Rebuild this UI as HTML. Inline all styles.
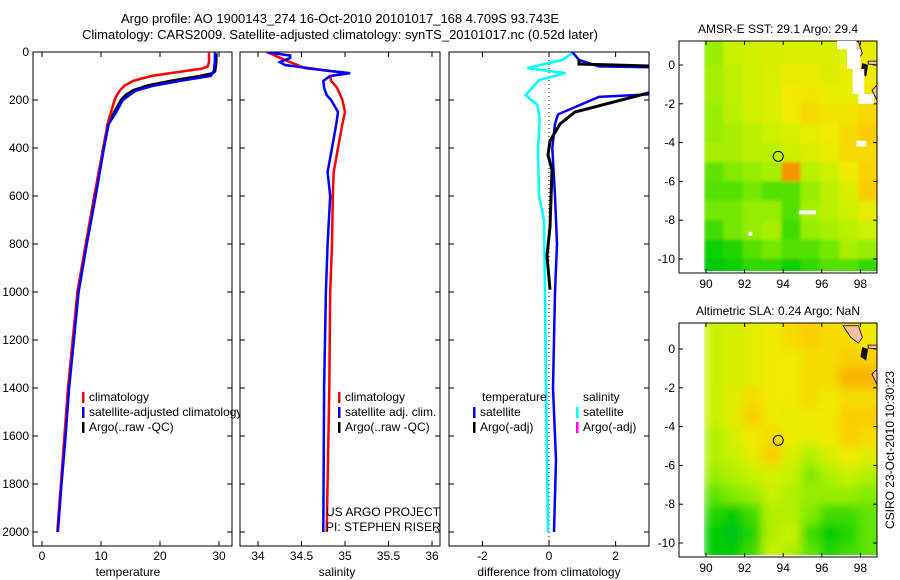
<!DOCTYPE html>
<html><head><meta charset="utf-8">
<style>
body{margin:0;background:#fff;}
svg{display:block;font-family:"Liberation Sans",sans-serif;}
text{font-size:12px;fill:#000;}
</style></head>
<body>
<svg id="fig" width="900" height="580" viewBox="0 0 900 580" xmlns="http://www.w3.org/2000/svg">
<rect width="900" height="580" fill="#fff"/>
<defs>
<clipPath id="c1"><rect x="33" y="52" width="199" height="494"/></clipPath>
<clipPath id="c2"><rect x="240" y="52" width="200" height="494"/></clipPath>
<clipPath id="c3"><rect x="449" y="52" width="200" height="494"/></clipPath>
<clipPath id="m1"><rect x="704" y="41" width="173" height="230"/></clipPath>
<clipPath id="m2"><rect x="704" y="323" width="173" height="232"/></clipPath>
<filter id="bl1" x="-10%" y="-10%" width="120%" height="120%"><feGaussianBlur stdDeviation="1.5"/></filter>
<filter id="bl2" x="-10%" y="-10%" width="120%" height="120%"><feGaussianBlur stdDeviation="5"/></filter>
</defs>
<g>
<text x="340" y="23" text-anchor="middle" style="font-size:13px">Argo profile: AO 1900143_274 16-Oct-2010 20101017_168 4.709S 93.743E</text>
<text x="340" y="39" text-anchor="middle" style="font-size:13px">Climatology: CARS2009. Satellite-adjusted climatology: synTS_20101017.nc (0.52d later)</text>
</g>
<g id="p1"></g>
<g id="p2"></g>
<g id="p3"></g>
<g id="map1"></g>
<g id="map2"></g>
<text transform="translate(894,450) rotate(-90)" text-anchor="middle">CSIRO 23-Oct-2010 10:30:23</text>
</svg>
<script>
// ---- profile data ----
const climDepth=[0,20,40,60,70,80,100,120,140,160,180,200,250,300,400,500,600,800,1000,1200,1400,1600,1800,2000];
const climTemp=[28.3,28.3,28.3,28.1,27,24,18.5,15.5,14,13.2,12.7,12.3,11.7,11.1,10.4,9.6,8.9,7.4,6.0,5.2,4.4,3.8,3.2,2.6];
const satDepth=[0,20,40,60,80,100,110,120,140,160,180,200,250,300,400,500,600,800,1000,1200,1400,1600,1800,2000];
const satTemp=[29.3,29.3,29.3,29.2,29.1,28.6,26,23.5,19,16,14.8,13.7,12.6,11.3,10.5,9.8,9.1,7.6,6.2,5.4,4.6,4.0,3.3,2.7];
const argoDepth=[5,20,40,60,80,90,100,120,140,160,180,200,250,300,400,500,600,800,1000];
const argoTemp=[29.5,29.5,29.5,29.4,29.3,28.8,27,22,18,15.5,14.2,13.4,12.3,11.2,10.4,9.7,8.9,7.5,6.1];
const salClimDepth=[0,30,67,83,90,100,120,150,200,250,300,400,500,600,800,1000,1400,2000];
const salClim=[34.1,34.29,34.54,34.91,35.0,34.83,34.84,34.91,34.97,35.0,34.97,34.92,34.87,34.86,34.85,34.83,34.82,34.79];
const salSatDepth=[0,15,25,42,54,79,88,100,120,150,180,200,250,300,400,500,600,800,1000,1400,2000];
const salSat=[34.1,34.37,34.37,34.25,34.31,34.83,35.06,34.83,34.75,34.76,34.79,34.84,34.92,34.9,34.85,34.8,34.83,34.8,34.78,34.76,34.75];
const diffSalDepth=[5,33,67,88,117,180,220,283,400,600,700,1000,1400,2000];
const diffSal=[0.7,0.4,-0.65,0.5,-0.3,-0.7,-0.35,-0.28,-0.33,-0.3,-0.15,-0.12,-0.09,-0.03];
const diffTempDepth=[0,33,60,75,100,155,187,260,300,400,600,800,1000,1400,1700,2000];
const diffTemp=[0.7,0.9,1.5,8,10,6,1.5,0.27,0.18,0.1,0.18,0.24,0.18,0.12,0.21,0.15];
const diffArgoDepth=[30,50,70,170,250,300,370,430,490,730,850,990];
const diffArgo=[0.9,0.9,6,3,0.78,0.33,0.03,-0.03,0.09,0.03,-0.06,0.03];
const depthTicks=[0,200,400,600,800,1000,1200,1400,1600,1800,2000];
const tempTicks=[0,10,20,30];
const salTicks=[34,34.5,35,35.5,36];
const diffTicks=[-2,0,2];
// ---- map data (1-degree cells, colour index 0..1) ----
const mapLon=[89.9,90.9,91.9,92.9,93.9,94.9,95.9,96.9,97.9];
const mapLat=[1.24,0,-1,-2,-3,-4,-5,-6,-7,-8,-9,-10];
const sstVals=[
[0.45,0.55,0.58,0.6,0.62,0.62,0.62,0.62,0.67],
[0.48,0.53,0.58,0.62,0.67,0.67,0.63,0.67,0.7],
[0.48,0.53,0.58,0.62,0.7,0.72,0.67,0.67,0.72],
[0.45,0.52,0.58,0.62,0.7,0.76,0.72,0.72,0.76],
[0.45,0.48,0.52,0.57,0.62,0.67,0.7,0.76,0.8],
[0.48,0.48,0.52,0.52,0.57,0.62,0.67,0.76,0.76],
[0.35,0.4,0.44,0.48,0.9,0.52,0.57,0.7,0.78],
[0.33,0.33,0.38,0.33,0.33,0.44,0.52,0.62,0.8],
[0.38,0.38,0.44,0.44,0.33,0.48,0.52,0.57,0.67],
[0.3,0.38,0.44,0.48,0.3,0.44,0.48,0.52,0.57],
[0.22,0.25,0.33,0.38,0.33,0.33,0.38,0.48,0.44],
[0.18,0.22,0.27,0.27,0.22,0.27,0.33,0.33,0.27]];
const slaVals=[
[0.55,0.6,0.65,0.7,0.75,0.8,0.75,0.75,0.7],
[0.55,0.6,0.65,0.7,0.7,0.75,0.75,0.8,0.8],
[0.55,0.6,0.65,0.7,0.7,0.75,0.75,0.85,0.85],
[0.55,0.65,0.75,0.7,0.7,0.75,0.7,0.75,0.75],
[0.55,0.65,0.8,0.7,0.65,0.7,0.7,0.8,0.8],
[0.5,0.6,0.7,0.75,0.7,0.65,0.7,0.8,0.75],
[0.5,0.55,0.65,0.8,0.6,0.5,0.6,0.7,0.65],
[0.45,0.5,0.55,0.6,0.55,0.4,0.5,0.55,0.5],
[0.35,0.4,0.45,0.55,0.5,0.45,0.45,0.45,0.4],
[0.25,0.2,0.3,0.5,0.5,0.4,0.3,0.3,0.35],
[0.2,0.15,0.25,0.5,0.55,0.3,0.2,0.25,0.35],
[0.2,0.2,0.3,0.55,0.5,0.35,0.25,0.3,0.35]];
const lonTicks=[90,92,94,96,98];
const latTicks=[0,-2,-4,-6,-8,-10];
const argoLon=93.743, argoLat=-4.709;

const NS="http://www.w3.org/2000/svg";
function mk(tag,attrs,parent){const e=document.createElementNS(NS,tag);for(const k in attrs)e.setAttribute(k,attrs[k]);parent.appendChild(e);return e;}
const yD=d=>52+d*0.24;
const xT=t=>42+t*5.9;
const xS=s=>258+(s-34)*87;
const xDf=v=>549+v*33.3;

function frame(g,x0,x1,ticksX,fx,labelsY){
  const bg=mk('rect',{x:x0,y:52,width:x1-x0,height:494,fill:'#fff',stroke:'#000','stroke-width':1},g);
  
  
  depthTicks.forEach(d=>{
    const y=yD(d);
    mk('line',{x1:x0,x2:x0+5,y1:y,y2:y,stroke:'#000'},g);
    mk('line',{x1:x1-5,x2:x1,y1:y,y2:y,stroke:'#000'},g);
    if(labelsY){const t=mk('text',{x:x0-4,y:y+4,'text-anchor':'end'},g);t.textContent=d;
      
      }
  });
  ticksX.forEach(v=>{
    const x=fx(v);
    mk('line',{x1:x,x2:x,y1:546,y2:541,stroke:'#000'},g);
    mk('line',{x1:x,x2:x,y1:52,y2:57,stroke:'#000'},g);
    const t=mk('text',{x:x,y:560,'text-anchor':'middle'},g);t.textContent=v;
    
    
  });
}
function line(g,xs,ys,fx,color,clip,name,w){
  const pts=xs.map((v,i)=>fx(v).toFixed(1)+','+yD(ys[i]).toFixed(1)).join(' ');
  const p=mk('polyline',{points:pts,fill:'none',stroke:color,'stroke-width':w||2.5,'clip-path':'url(#'+clip+')'},g);
  
  
}
function legend(g,x,y,color,label,name){
  mk('rect',{x:x,y:y-9,width:2.5,height:11,fill:color},g);
  const t=mk('text',{x:x+7,y:y},g);t.textContent=label;
  
  
}
function xlabel(g,x,label,name){const t=mk('text',{x:x,y:576,'text-anchor':'middle'},g);t.textContent=label;
  
  }

const p1=document.getElementById('p1'),p2=document.getElementById('p2'),p3=document.getElementById('p3');
frame(p1,33,232,tempTicks,xT,true);
line(p1,argoTemp,argoDepth,xT,'#000','c1','argo-temperature-line',3);
line(p1,climTemp,climDepth,xT,'#f00','c1','climatology-temperature-line');
line(p1,satTemp,satDepth,xT,'#00f','c1','satellite-temperature-line');
legend(p1,82,401,'#f00','climatology','legend-climatology');
legend(p1,82,416,'#00f','satellite-adjusted climatology','legend-satellite');
legend(p1,82,431,'#000','Argo(..raw -QC)','legend-argo');
xlabel(p1,128,'temperature','x-axis-title-temperature');

frame(p2,240,440,salTicks,xS,false);
line(p2,salClim,salClimDepth,xS,'#f00','c2','climatology-salinity-line');
line(p2,salSat,salSatDepth,xS,'#00f','c2','satellite-salinity-line');
legend(p2,338,401,'#f00','climatology','legend-climatology');
legend(p2,338,416,'#00f','satellite adj. clim.','legend-satellite');
legend(p2,338,431,'#000','Argo(..raw -QC)','legend-argo');
{const t=mk('text',{x:326,y:516},p2);t.textContent='US ARGO PROJECT';
 const u=mk('text',{x:326,y:531},p2);u.textContent='PI: STEPHEN RISER';}
xlabel(p2,337,'salinity','x-axis-title-salinity');

frame(p3,449,649,diffTicks,xDf,false);
mk('line',{x1:549,x2:549,y1:52,y2:546,stroke:'#000','stroke-dasharray':'1,3'},p3);
line(p3,diffSal,diffSalDepth,xDf,'#0ff','c3','salinity-diff-line');
line(p3,diffTemp,diffTempDepth,xDf,'#00f','c3','temperature-diff-line');
line(p3,diffArgo,diffArgoDepth,xDf,'#000','c3','argo-diff-line',3);
{const t=mk('text',{x:482,y:401},p3);t.textContent='temperature';
 const u=mk('text',{x:583,y:401},p3);u.textContent='salinity';}
legend(p3,473,416,'#00f','satellite','legend-temp-satellite');
legend(p3,473,431,'#000','Argo(-adj)','legend-temp-argo');
legend(p3,576,416,'#0ff','satellite','legend-sal-satellite');
legend(p3,576,431,'#f0f','Argo(-adj)','legend-sal-argo');
xlabel(p3,549,'difference from climatology','x-axis-title-difference');

// ---- maps ----
const stops=[[0,[0,160,80]],[0.2,[0,205,0]],[0.4,[130,235,0]],[0.55,[200,242,0]],[0.7,[240,235,0]],[0.8,[250,205,0]],[0.9,[245,150,0]],[1,[180,0,0]]];
function cmap(v){for(let i=1;i<stops.length;i++){if(v<=stops[i][0]){const a=stops[i-1],b=stops[i],f=(v-a[0])/(b[0]-a[0]);
  return 'rgb('+a[1].map((c,k)=>Math.round(c+(b[1][k]-c)*f)).join(',')+')';}}return 'rgb(180,0,0)';}
const lonX=l=>706+(l-90)*19.3;
function drawMap(g,top,lat0Y,vals,clip,blur,title,bottom){
  const latY=l=>lat0Y-l*19.4;
  const t=mk('text',{x:778,y:top-8,'text-anchor':'middle'},g);t.textContent=title;
  
  
  mk('rect',{x:679,y:top,width:198,height:bottom-top,fill:'#fff'},g);
  const cg=mk('g',{'clip-path':'url(#'+clip+')'},g);
  const bg=mk('g',{filter:'url(#'+blur+')'},cg);
  vals.forEach((row,r)=>{row.forEach((v,c)=>{
    const x0=lonX(mapLon[c]),x1=c==row.length-1?lonX(mapLon[c]+1)+15:lonX(mapLon[c]+1);
    const y0=r==0?latY(mapLat[r])-15:latY(mapLat[r]),y1=r==vals.length-1?latY(-10.6)+15:latY(mapLat[r+1]);
    const cell=mk('rect',{x:x0,y:y0,width:x1-x0+0.6,height:y1-y0+0.6,fill:cmap(v)},bg);
    
    
  });});
  mk('path',{d:`M${lonX(97.1)},${latY(1.2)} L${lonX(97.9)},${latY(1.2)} L${lonX(98.1)},${latY(0.6)} L${lonX(97.9)},${latY(0.3)} L${lonX(97.5)},${latY(0.6)} Z`,fill:'#f5c0a0',stroke:'#000','stroke-width':0.8},cg);
  mk('path',{d:`M${lonX(98.4)},${latY(0.2)} L${lonX(98.9)},${latY(0.2)} L${lonX(98.9)},${latY(0.0)} L${lonX(98.4)},${latY(0.05)} Z`,fill:'#f5c0a0',stroke:'#000','stroke-width':0.8},cg);
  mk('path',{d:`M${lonX(98.1)},${latY(0.1)} L${lonX(98.4)},${latY(0)} L${lonX(98.3)},${latY(-0.6)} L${lonX(98.0)},${latY(-0.4)} Z`,fill:'#111'},cg);
  mk('path',{d:`M${lonX(98.9)},${latY(-1)} L${lonX(98.6)},${latY(-1.3)} L${lonX(98.9)},${latY(-1.9)} Z`,fill:'#f5c0a0',stroke:'#000','stroke-width':0.8},cg);
  mk('rect',{x:679,y:top,width:198,height:bottom-top,fill:'none',stroke:'#000'},g);
  lonTicks.forEach(l=>{const x=lonX(l);
    mk('line',{x1:x,x2:x,y1:bottom,y2:bottom-4,stroke:'#000'},g);
    mk('line',{x1:x,x2:x,y1:top,y2:top+4,stroke:'#000'},g);
    const tx=mk('text',{x:x,y:bottom+15,'text-anchor':'middle'},g);tx.textContent=l;
    
    });
  latTicks.forEach(l=>{const y=latY(l);
    mk('line',{x1:679,x2:683,y1:y,y2:y,stroke:'#000'},g);
    mk('line',{x1:873,x2:877,y1:y,y2:y,stroke:'#000'},g);
    const tx=mk('text',{x:675,y:y+4,'text-anchor':'end'},g);tx.textContent=l;
    
    });
  const c=mk('circle',{cx:lonX(argoLon),cy:latY(argoLat),r:5,fill:'none',stroke:'#000','stroke-width':1},g);
  
  
  return latY;
}
const m1=document.getElementById('map1');
const ly1=drawMap(m1,41,65,sstVals,'m1','bl1','AMSR-E SST: 29.1 Argo: 29.4',273);
[[96.8,1.24,97.8,0.8],[97.3,0.8,98.0,-0.2],[97.6,-0.2,98.2,-1.5],[97.9,-1.5,98.7,-2],[97.8,-3.9,98.3,-4.2],[94.8,-7.5,95.7,-7.7],[92.2,-8.6,92.4,-8.8]].forEach(b=>{
  const w=mk('rect',{x:lonX(b[0]),y:ly1(b[1]),width:lonX(b[2])-lonX(b[0]),height:ly1(b[3])-ly1(b[1]),fill:'#fff'},m1);
  
  
});
const m2=document.getElementById('map2');
drawMap(m2,323,349,slaVals,'m2','bl2','Altimetric SLA: 0.24 Argo: NaN',557);
</script>
</body></html>
